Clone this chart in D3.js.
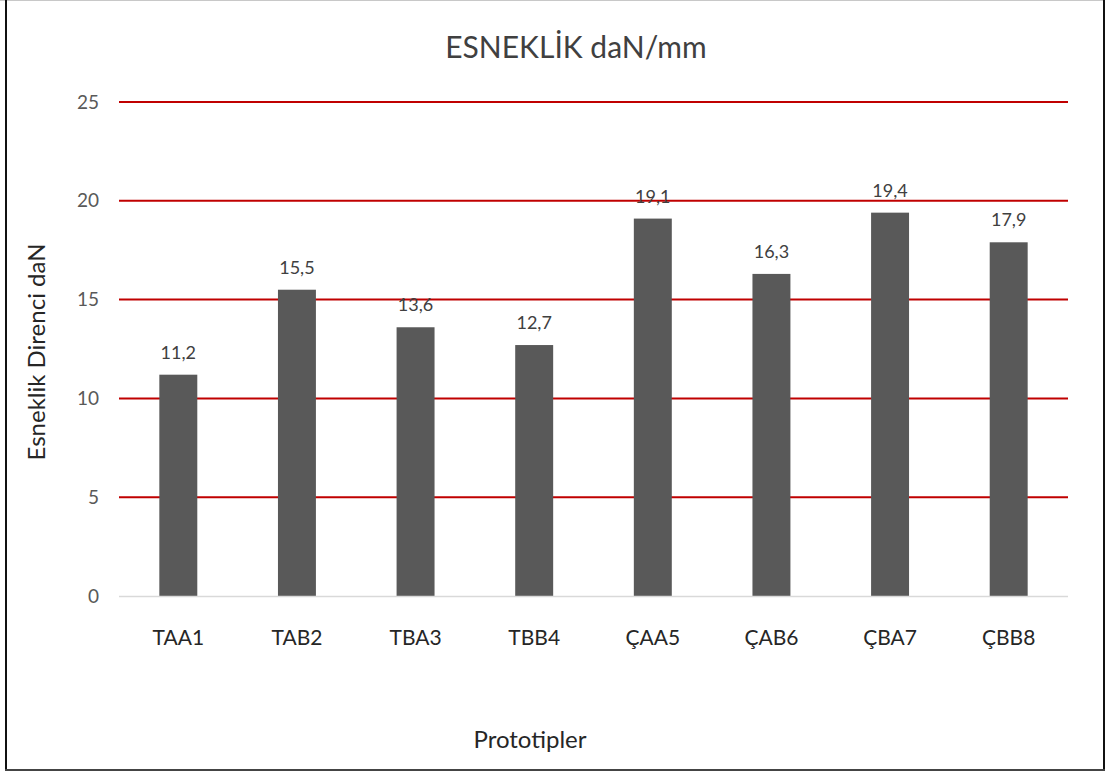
<!DOCTYPE html>
<html>
<head>
<meta charset="utf-8">
<script src="https://cdn.jsdelivr.net/npm/d3@7"></script>
<style>
  html, body { margin: 0; padding: 0; background: #fff; }
  svg { display: block; }
  text { font-family: Lato, "Open Sans", sans-serif; }
</style>
</head>
<body>
<svg id="chart" width="1105" height="771"></svg>
<script>
// Prototype names and their stiffness values (daN/mm)
const categories = ["TAA1", "TAB2", "TBA3", "TBB4", "ÇAA5", "ÇAB6", "ÇBA7", "ÇBB8"];
const values = [11.2, 15.5, 13.6, 12.7, 19.1, 16.3, 19.4, 17.9];
const yTicks = [0, 5, 10, 15, 20, 25];

const title = "ESNEKLİK daN/mm";
const yTitle = "Esneklik Direnci daN";
const xTitle = "Prototipler";

const svg = d3.select("#chart");
const W = 1105, H = 771;
const plot = { left: 119, right: 1068, top: 102, bottom: 596 };

// Outer frame
svg.append("line").attr("x1", 0).attr("x2", W).attr("y1", 0.5).attr("y2", 0.5)
  .attr("stroke", "#c8c8c8").attr("stroke-width", 1);
svg.append("line").attr("x1", 6).attr("x2", 6).attr("y1", 0).attr("y2", H)
  .attr("stroke", "#111").attr("stroke-width", 2);
svg.append("line").attr("x1", 1104).attr("x2", 1104).attr("y1", 0).attr("y2", H)
  .attr("stroke", "#111").attr("stroke-width", 2);
svg.append("line").attr("x1", 5).attr("x2", W).attr("y1", 770).attr("y2", 770)
  .attr("stroke", "#444").attr("stroke-width", 2);

const x = d3.scaleBand().domain(categories).range([plot.left, plot.right]).paddingInner(0.68).paddingOuter(0.34);
const y = d3.scaleLinear().domain([0, 25]).range([plot.bottom, plot.top]);

// Horizontal gridlines
svg.append("g").selectAll("line").data(yTicks.filter(d => d > 0)).join("line")
  .attr("x1", plot.left).attr("x2", plot.right)
  .attr("y1", d => y(d)).attr("y2", d => y(d))
  .attr("stroke", "#c00000").attr("stroke-width", 2);

// Y tick labels
const yAxis = svg.append("g").attr("transform", `translate(${plot.left},0)`)
  .call(d3.axisLeft(y).tickValues(yTicks).tickSize(0).tickPadding(20).tickFormat(d3.format("d")));
yAxis.select(".domain").remove();
yAxis.selectAll("text").attr("font-family", "Lato, 'Open Sans', sans-serif")
  .attr("font-size", 19).attr("fill", "#595959");

// Bars
svg.append("g").selectAll("rect").data(values).join("rect")
  .attr("x", (d, i) => x(categories[i]))
  .attr("width", x.bandwidth())
  .attr("y", d => y(d))
  .attr("height", d => y(0) - y(d))
  .attr("fill", "#595959");

// Baseline
svg.append("line").attr("x1", plot.left).attr("x2", plot.right)
  .attr("y1", y(0) + 0.5).attr("y2", y(0) + 0.5)
  .attr("stroke", "#d9d9d9").attr("stroke-width", 1.5);

// Value labels above bars
svg.append("g").selectAll("text").data(values).join("text")
  .attr("x", (d, i) => x(categories[i]) + x.bandwidth() / 2)
  .attr("y", d => y(d) - 16)
  .attr("text-anchor", "middle")
  .attr("font-size", 18).attr("fill", "#404040")
  .text(d => d3.format(".1f")(d).replace(".", ","));

// X category labels
const xAxis = svg.append("g").attr("transform", `translate(0,${plot.bottom})`)
  .call(d3.axisBottom(x).tickSize(0).tickPadding(34));
xAxis.select(".domain").remove();
xAxis.selectAll("text").attr("font-family", "Lato, 'Open Sans', sans-serif")
  .attr("font-size", 21).attr("fill", "#262626");

// Titles
svg.append("text").attr("x", 576).attr("y", 58).attr("text-anchor", "middle")
  .attr("font-size", 30).attr("fill", "#404040").text(title);

svg.append("text").attr("transform", "translate(45,352) rotate(-90)")
  .attr("text-anchor", "middle").attr("font-size", 24).attr("fill", "#262626").text(yTitle);

svg.append("text").attr("x", 530).attr("y", 748).attr("text-anchor", "middle")
  .attr("font-size", 24).attr("fill", "#262626").text(xTitle);
</script>
</body>
</html>
